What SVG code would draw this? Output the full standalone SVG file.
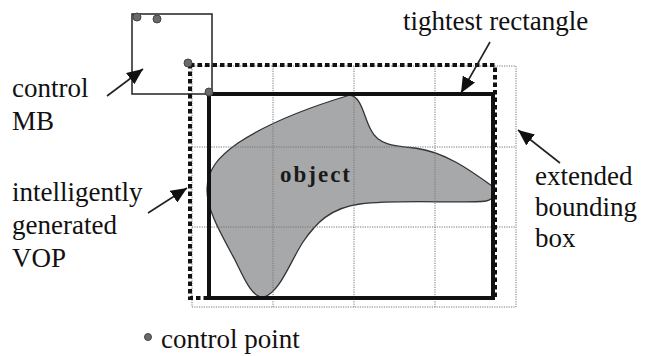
<svg xmlns="http://www.w3.org/2000/svg" width="645" height="356" viewBox="0 0 645 356">
<defs>
<style>
.lbl{font-family:'Liberation Serif','Tinos','DejaVu Serif','Noto Serif',serif;font-size:27px;fill:#111}
.obj{font-family:'Liberation Serif','Tinos','DejaVu Serif','Noto Serif',serif;font-size:23px;font-weight:bold;letter-spacing:2px;fill:#1a1a1a}
.grid{stroke:#777;stroke-width:1;stroke-dasharray:1.2 1.2;fill:none}
.cp{fill:#6a6a6a;stroke:#444;stroke-width:1}
.arr{stroke:#222;stroke-width:1.6;fill:none;marker-end:url(#ah)}
</style>
<marker id="ah" markerUnits="userSpaceOnUse" markerWidth="18" markerHeight="14" refX="16" refY="7" orient="auto">
<path d="M0,0 L16,7 L0,14 Z" fill="#111"/>
</marker>
</defs>
<rect width="645" height="356" fill="#fff"/>
<g id="object">
<path d="M350,95 C362,97 364,118 371,130 C378,145 395,146 415,148 C445,152 470,170 492,186 C496,192 495,199 486,201 C465,204 400,199 360,204 C330,208 316,223 303,242 C290,262 280,292 264,297 C252,299 243,276 235,260 C220,232 207,210 207,190 C207,170 218,157 238,143 C265,125 300,110 350,95 Z" fill="#a7a8aa" stroke="#333" stroke-width="1.3"/>
<text class="obj" x="316" y="182" text-anchor="middle">object</text>
</g>
<g id="extended-bounding-box">
<rect x="192" y="66" width="324" height="241" class="grid"/>
<path d="M273,66 V307 M354,66 V307 M435,66 V307 M192,147 H516 M192,227 H516" class="grid"/>
</g>
<g id="control-mb">
<rect x="132" y="14" width="80" height="80" fill="none" stroke="#222" stroke-width="1.5"/>
</g>
<g id="generated-vop">
<rect x="190" y="65" width="305" height="233" fill="none" stroke="#111" stroke-width="4" stroke-dasharray="4.5 3"/>
</g>
<g id="tightest-rectangle">
<rect x="209" y="94" width="284" height="204" fill="none" stroke="#111" stroke-width="4"/>
</g>
<g id="control-points">
<circle cx="137" cy="17" r="4" class="cp"/>
<circle cx="157" cy="19" r="4" class="cp"/>
<circle cx="188" cy="63" r="4" class="cp"/>
<circle cx="209" cy="92" r="4" class="cp"/>
</g>
<g id="connectors">
<line x1="107" y1="96" x2="143" y2="69" class="arr"/>
<line x1="148" y1="213" x2="187" y2="188" class="arr"/>
<line x1="490" y1="42" x2="461" y2="93" class="arr"/>
<line x1="560" y1="163" x2="518" y2="130" class="arr"/>
</g>
<g id="labels">
<text class="lbl" x="12" y="97">control</text>
<text class="lbl" x="12" y="130">MB</text>
<text class="lbl" x="12" y="201">intelligently</text>
<text class="lbl" x="12" y="234">generated</text>
<text class="lbl" x="12" y="267">VOP</text>
<text class="lbl" x="403" y="30">tightest rectangle</text>
<text class="lbl" x="535" y="185">extended</text>
<text class="lbl" x="535" y="216">bounding</text>
<text class="lbl" x="535" y="247">box</text>
</g>
<g id="legend">
<circle cx="148" cy="337" r="3.5" class="cp"/>
<text class="lbl" x="161" y="348">control point</text>
</g>
</svg>
